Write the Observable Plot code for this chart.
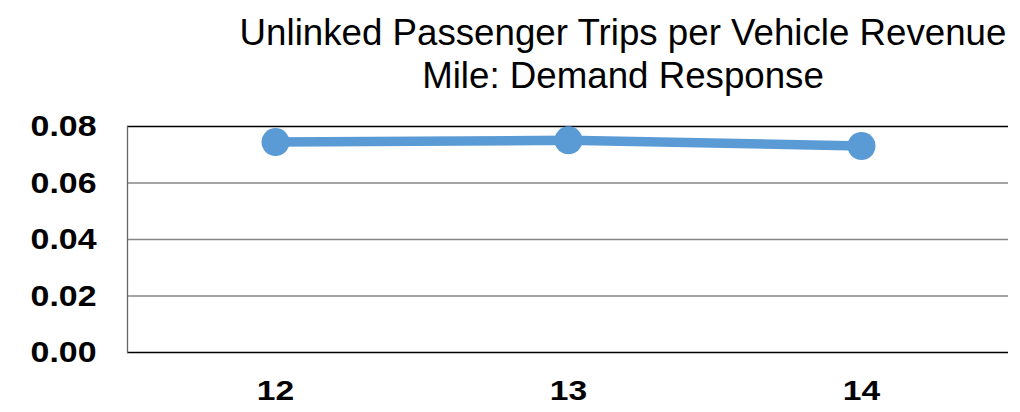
<!DOCTYPE html>
<html><head><meta charset="utf-8">
<script src="https://cdn.jsdelivr.net/npm/d3@7"></script>
<script src="https://cdn.jsdelivr.net/npm/@observablehq/plot@0.6"></script>
<style>
body{margin:0;background:#fff;width:1020px;height:412px;overflow:hidden;position:relative;font-family:"Liberation Sans",Arial,sans-serif;}
#title{position:absolute;z-index:2;top:11px;left:623px;transform:translateX(-50%);white-space:nowrap;text-align:center;font-size:36.7px;line-height:43px;color:#000;}
#chart{position:absolute;z-index:1;top:90px;left:0;}
</style></head>
<body>
<div id="title">Unlinked Passenger Trips per Vehicle Revenue<br>Mile: Demand Response</div>
<div id="chart"></div>
<script>
const years = ["12", "13", "14"];
const values = [0.0745, 0.0751, 0.0731];
const yTicks = [0, 0.02, 0.04, 0.06, 0.08];
const gridValues = [0.02, 0.04, 0.06];
const frameValues = [0, 0.08];

const data = years.map((y, i) => ({year: y, value: values[i]}));

const chart = Plot.plot({
  width: 1020,
  height: 322,
  marginTop: 36,
  marginBottom: 60,
  marginLeft: 127,
  marginRight: 12,
  style: {fontFamily: "'Liberation Sans', Arial, sans-serif", background: "transparent", color: "#000"},
  x: {type: "point", domain: years, padding: 0.5, label: null},
  y: {domain: [0, 0.08], label: null},
  marks: [
    Plot.ruleY(gridValues, {stroke: "#868686", strokeWidth: 1.3}),
    Plot.ruleY(frameValues, {stroke: "#000", strokeWidth: 1.3}),
    Plot.frame({anchor: "left", stroke: "#666", strokeWidth: 1.3}),
    Plot.axisY({ticks: yTicks, tickFormat: d => d.toFixed(2), tickSize: 0, tickPadding: 31, fontSize: 30, fontWeight: "bold", label: null}),
    Plot.axisX({tickSize: 0, tickPadding: 28, fontSize: 28, fontWeight: "bold", label: null}),
    Plot.line(data, {x: "year", y: "value", stroke: "#5B9BD5", strokeWidth: 9.5}),
    Plot.dot(data, {x: "year", y: "value", r: 14, fill: "#5B9BD5", stroke: "none"})
  ]
});

// widen tick label glyphs horizontally to match the reference's wide bold digits
function widen(sel, s) {
  chart.querySelectorAll(sel).forEach(t => {
    let x = Number(t.getAttribute("x"));
    if (!isFinite(x)) x = 0;
    const tr = t.getAttribute("transform") || "";
    t.setAttribute("transform", `${tr} translate(${x},0) scale(${s},1) translate(${-x},0)`);
  });
}
widen('g[aria-label="y-axis tick label"] text', 1.13);
widen('g[aria-label="x-axis tick label"] text', 1.2);
document.getElementById("chart").appendChild(chart);
</script>
</body></html>
